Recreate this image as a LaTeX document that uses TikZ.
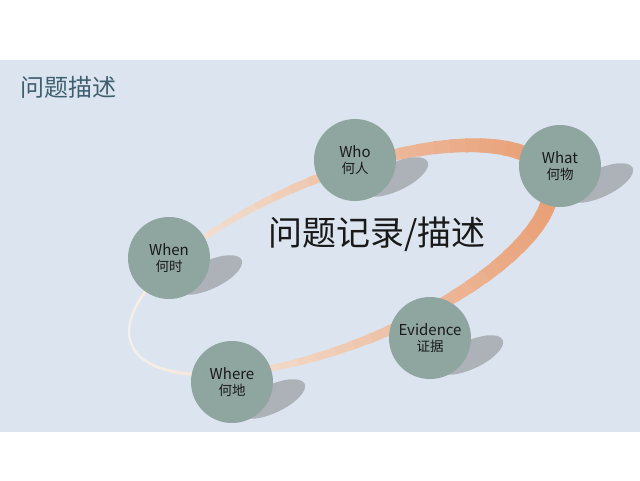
\documentclass[tikz,border=0pt]{standalone}
\usepackage{fontspec}
\setmainfont{Noto Sans CJK SC}
\usetikzlibrary{positioning}
\definecolor{panelblue}{RGB}{220,229,239}
\definecolor{titleteal}{RGB}{62,95,110}
\definecolor{discgreen}{RGB}{143,166,160}
\definecolor{shadowgray}{RGB}{165,170,176}
\definecolor{ringorange}{RGB}{232,158,116}
\definecolor{ringcream}{RGB}{246,240,232}

\begin{document}
\begin{tikzpicture}[x=1pt,y=-1pt,
  disc/.style={circle, fill=discgreen, minimum size=82pt, inner sep=0pt,
    align=center, text=black!90, font=\fontsize{15}{16}\selectfont},
  discshadow/.style={fill=shadowgray, opacity=0.85}]
\useasboundingbox (0,0) rectangle (640,480);
\fill[white] (0,0) rectangle (640,480);
\fill[panelblue] (0,60) rectangle (640,432);

\node[anchor=west, text=titleteal, font=\fontsize{24}{24}\selectfont] (title) at (17,87) {问题描述};

% ring behind the discs
\begin{scope}[shift={(340,260)}, rotate=22]
\foreach \t [evaluate=\t as \p using {int(50+50*cos(\t))},
             evaluate=\t as \w using {9+7*cos(\t)}] in {0,5,...,355}
  \draw[ringorange!\p!ringcream, line width=\w pt]
    (\t:225 and 84) arc[start angle=\t, delta angle=6, x radius=225, y radius=84];
\end{scope}

% shadows, then discs
\foreach \n/\x/\y in {who/355/160, what/560/166, when/169/258, where/232/382, evidence/430/338}
  \fill[discshadow, rotate around={25:(\x+40,\y+17)}] (\x+40,\y+17) ellipse [x radius=36, y radius=14];

\node[disc] (who) at (355,160) {Who\\{\fontsize{13.5}{15}\selectfont 何人}};
\node[disc] (what) at (560,166) {What\\{\fontsize{13.5}{15}\selectfont 何物}};
\node[disc] (when) at (169,258) {When\\{\fontsize{13.5}{15}\selectfont 何时}};
\node[disc] (where) at (232,382) {Where\\{\fontsize{13.5}{15}\selectfont 何地}};
\node[disc] (evidence) at (430,338) {Evidence\\{\fontsize{13.5}{15}\selectfont 证据}};

\node[font=\fontsize{34}{34}\selectfont, text=black!90] (topic) at (377,234) {问题记录/描述};
\end{tikzpicture}
\end{document}
